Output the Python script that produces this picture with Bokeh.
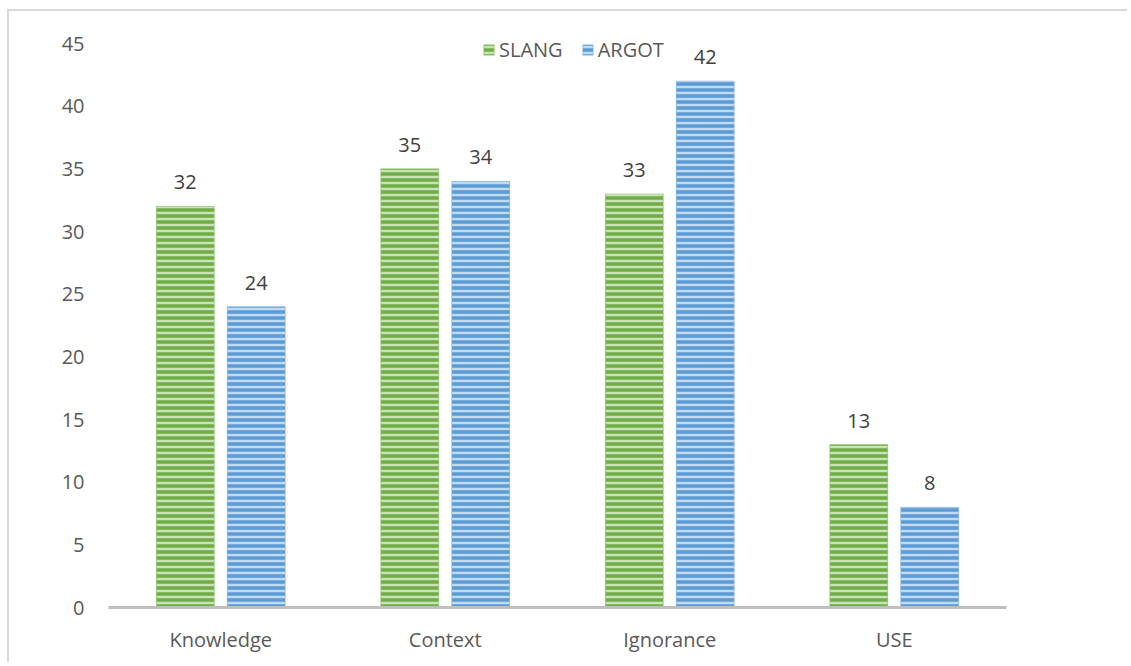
from bokeh.plotting import figure
from bokeh.models import ColumnDataSource, FactorRange, Range1d, Legend, LegendItem, SingleIntervalTicker
from bokeh.transform import dodge
from bokeh.core.properties import value
from bokeh.embed import file_html
from bokeh.resources import INLINE

categories = ["Knowledge", "Context", "Ignorance", "USE"]
slang = [32, 35, 33, 13]
argot = [24, 34, 42, 8]

src = ColumnDataSource(dict(
    cat=categories,
    slang=slang,
    argot=argot,
    slang_lbl=[str(v) for v in slang],
    argot_lbl=[str(v) for v in argot],
))

W, H = 1120, 653
p = figure(x_range=FactorRange(*categories), y_range=Range1d(0, 45.8),
           width=W, height=H, output_backend="svg", toolbar_location=None,
           min_border_left=99, min_border_right=W - 997, min_border_top=22,
           min_border_bottom=H - 596)
p.styles = {"border-top": "2px solid #d9d9d9", "border-left": "2px solid #d9d9d9",
            "margin-top": "9px", "margin-left": "7px"}
p.outline_line_color = None
p.grid.visible = False

FONT = "Open Sans"
FS = "20px"
r1 = p.vbar(x=dodge("cat", -0.158, range=p.x_range), top="slang", width=0.258, source=src,
            fill_color="#70AD47", line_color="#8CC168", line_width=0.5,
            hatch_pattern="horizontal_line", hatch_color="#C9E3B7", hatch_scale=6, hatch_weight=2.5)
r2 = p.vbar(x=dodge("cat", 0.158, range=p.x_range), top="argot", width=0.258, source=src,
            fill_color="#5B9BD5", line_color="#7DAFE0", line_width=0.5,
            hatch_pattern="horizontal_line", hatch_color="#C2DAF0", hatch_scale=6, hatch_weight=2.5)

p.text(x=dodge("cat", -0.158, range=p.x_range), y="slang", text="slang_lbl", source=src,
       y_offset=-17, text_align="center", text_baseline="bottom",
       text_font=value(FONT), text_font_size=FS, text_color="#404040")
p.text(x=dodge("cat", 0.158, range=p.x_range), y="argot", text="argot_lbl", source=src,
       y_offset=-17, text_align="center", text_baseline="bottom",
       text_font=value(FONT), text_font_size=FS, text_color="#404040")

p.yaxis.ticker = SingleIntervalTicker(interval=5)
p.yaxis.axis_line_color = None
p.yaxis.major_tick_line_color = None
p.yaxis.minor_tick_line_color = None
p.yaxis.major_label_text_font = FONT
p.yaxis.major_label_text_font_size = FS
p.yaxis.major_label_text_color = "#595959"
p.yaxis.major_label_standoff = 18

p.xaxis.axis_line_color = "#BFBFBF"
p.xaxis.axis_line_width = 3
p.xaxis.major_tick_line_color = None
p.xaxis.minor_tick_line_color = None
p.xaxis.major_label_text_font = FONT
p.xaxis.major_label_text_font_size = FS
p.xaxis.major_label_text_color = "#595959"
p.xaxis.major_label_standoff = 12

legend = Legend(items=[LegendItem(label="SLANG", renderers=[r1]),
                       LegendItem(label="ARGOT", renderers=[r2])],
                orientation="horizontal", location=(374, 544),
                label_text_font=FONT, label_text_font_size=FS, label_text_color="#595959",
                glyph_width=13, glyph_height=13, label_standoff=4, spacing=18,
                border_line_color=None, background_fill_alpha=0, margin=0, padding=1)
p.add_layout(legend)

open("out.html", "w").write(file_html(p, INLINE))
